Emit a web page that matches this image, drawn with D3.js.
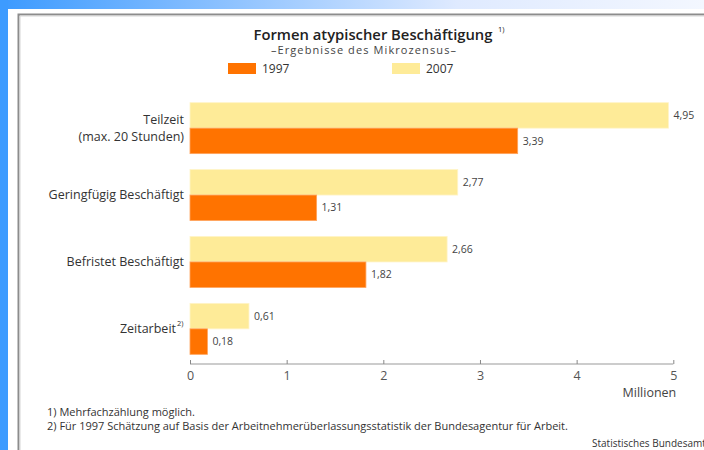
<!DOCTYPE html>
<html>
<head>
<meta charset="utf-8">
<script src="https://cdn.jsdelivr.net/npm/d3@7"></script>
<style>
  body { margin: 0; background: #fff; }
  svg { display: block; font-family: "Open Sans", Lato, sans-serif; }
</style>
</head>
<body>
<svg id="chart"></svg>
<script>
const width = 704,
  height = 450;

// Data (Mio.)
const categories = ["Teilzeit", "Geringfügig Beschäftigt", "Befristet Beschäftigt", "Zeitarbeit"];
const categoryLines = [["Teilzeit", "(max. 20 Stunden)"], ["Geringfügig Beschäftigt"], ["Befristet Beschäftigt"], ["Zeitarbeit"]];
const categoryNotes = ["", "", "", "2)"];
const values1997 = [3.39, 1.31, 1.82, 0.18];
const values2007 = [4.95, 2.77, 2.66, 0.61];
const years = ["1997", "2007"];
const tickValues = [0, 1, 2, 3, 4, 5];
const footnotes = [
  "1) Mehrfachzählung möglich.",
  "2) Für 1997 Schätzung auf Basis der Arbeitnehmerüberlassungsstatistik der Bundesagentur für Arbeit."
];

const colors = { "1997": "#ff7300", "2007": "#feeb98" };
const fmt = v => d3.format(".2f")(v).replace(".", ",");

const svg = d3.select("#chart")
  .attr("width", width)
  .attr("height", height);

// Frame: blue gradient band on top, blue strip at the left, grey panel border
const grad = svg.append("defs").append("linearGradient")
  .attr("id", "topband")
  .attr("x1", "0%").attr("x2", "100%");
grad.append("stop").attr("offset", "0%").attr("stop-color", "#3c9aff");
grad.append("stop").attr("offset", "65%").attr("stop-color", "#dfeaff");
grad.append("stop").attr("offset", "100%").attr("stop-color", "#f3f7ff");

svg.append("rect").attr("width", width).attr("height", height).attr("fill", "#fff");
svg.append("rect").attr("width", width).attr("height", 9).attr("fill", "url(#topband)");
svg.append("rect").attr("width", 8).attr("height", height).attr("fill", "#3d9bff");

svg.append("path")
  .attr("d", "M18.5,450V14.5H704")
  .attr("fill", "none")
  .attr("stroke", "#8c8c8c")
  .attr("stroke-width", 2);
svg.append("path")
  .attr("d", "M20,450V16H704")
  .attr("fill", "none")
  .attr("stroke", "#d6d6d6")
  .attr("stroke-width", 1);

// Scales
const x = d3.scaleLinear().domain([0, 5]).range([190, 673.3]);
const y = d3.scaleBand()
  .domain(categories)
  .range([94.7, 362.3])
  .paddingInner(0.238)
  .paddingOuter(0.119);
const ySub = d3.scaleBand()
  .domain(["2007", "1997"])
  .range([0, y.bandwidth()]);

// Title and legend
svg.append("text")
  .attr("x", 373)
  .attr("y", 40)
  .attr("text-anchor", "middle")
  .attr("font-size", 14.8)
  .attr("font-weight", 600)
  .attr("fill", "#222")
  .text("Formen atypischer Beschäftigung");
svg.append("text")
  .attr("x", 498)
  .attr("y", 32)
  .attr("font-size", 7.5)
  .attr("fill", "#222")
  .text("1)");
svg.append("text")
  .attr("x", 364)
  .attr("y", 54)
  .attr("text-anchor", "middle")
  .attr("font-size", 11)
  .attr("letter-spacing", 1.1)
  .attr("fill", "#444")
  .text("–Ergebnisse des Mikrozensus–");

const legend = svg.append("g").selectAll("g")
  .data(years)
  .join("g")
  .attr("transform", (d, i) => "translate(" + (i === 0 ? 228 : 392) + ",63)");
legend.append("rect")
  .attr("width", 28)
  .attr("height", 11)
  .attr("fill", d => colors[d]);
legend.append("text")
  .attr("x", 34)
  .attr("y", 9.8)
  .attr("font-size", 12)
  .attr("fill", "#333")
  .text(d => d);

// Bars
const rows = categories.map((c, i) => ({
  cat: c,
  lines: categoryLines[i],
  note: categoryNotes[i],
  bars: [{ year: "2007", value: values2007[i] }, { year: "1997", value: values1997[i] }]
}));

const group = svg.append("g").selectAll("g")
  .data(rows)
  .join("g")
  .attr("transform", d => "translate(0," + y(d.cat) + ")");

group.selectAll("rect")
  .data(d => d.bars)
  .join("rect")
  .attr("x", x(0))
  .attr("y", d => ySub(d.year))
  .attr("width", d => x(d.value) - x(0))
  .attr("height", ySub.bandwidth())
  .attr("fill", d => colors[d.year])
  .attr("stroke", d => d.year === "1997" ? "#ffa35c" : "#fff4c8")
  .attr("stroke-width", 0.8);

group.selectAll("text.value")
  .data(d => d.bars)
  .join("text")
  .attr("class", "value")
  .attr("x", d => x(d.value) + 5)
  .attr("y", d => ySub(d.year) + ySub.bandwidth() / 2)
  .attr("dy", "0.35em")
  .attr("font-size", 10.5)
  .attr("fill", "#444")
  .text(d => fmt(d.value));

// Category labels
group.each(function(d) {
  const g = d3.select(this);
  const n = d.lines.length;
  const t = g.append("text")
    .attr("text-anchor", "end")
    .attr("font-size", 12.5)
    .attr("fill", "#333");
  d.lines.forEach((line, k) => {
    t.append("tspan")
      .attr("x", d.note ? 176 : 184)
      .attr("y", y.bandwidth() / 2 + (k - (n - 1) / 2) * 17.5)
      .attr("dy", "0.35em")
      .text(line);
  });
  if (d.note) {
    g.append("text")
      .attr("x", 177)
      .attr("y", y.bandwidth() / 2 - 3)
      .attr("font-size", 7.5)
      .attr("fill", "#333")
      .text(d.note);
  }
});

// Axis
const axis = svg.append("g")
  .attr("transform", "translate(0,364)")
  .call(d3.axisBottom(x).tickValues(tickValues).tickSize(-4).tickPadding(7).tickFormat(d3.format("d")));
axis.select(".domain").attr("stroke", "#999").attr("d", "M" + x(0) + ",0H" + x(5));
axis.selectAll(".tick line").attr("stroke", "#888");
axis.selectAll(".tick text")
  .attr("font-size", 12.5)
  .attr("font-family", "'Open Sans', sans-serif")
  .attr("fill", "#555");

svg.append("text")
  .attr("x", x(5) + 3)
  .attr("y", 397)
  .attr("text-anchor", "end")
  .attr("font-size", 12.5)
  .attr("fill", "#444")
  .text("Millionen");

// Footnotes and source
svg.append("g").selectAll("text")
  .data(footnotes)
  .join("text")
  .attr("x", 47)
  .attr("y", (d, i) => 412 + i * 14)
  .attr("dy", "0.35em")
  .attr("font-size", 11)
  .attr("fill", "#333")
  .text(d => d);

svg.append("text")
  .attr("x", 592)
  .attr("y", 443)
  .attr("dy", "0.35em")
  .attr("font-size", 10)
  .attr("fill", "#333")
  .text("Statistisches Bundesamt");
</script>
</body>
</html>
